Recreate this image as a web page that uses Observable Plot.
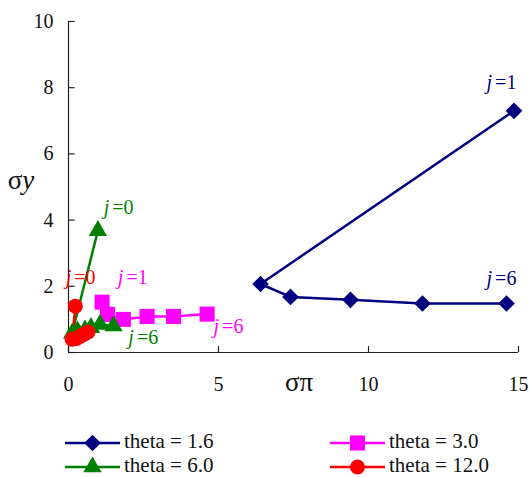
<!DOCTYPE html>
<html>
<head>
<meta charset="utf-8">
<script src="https://cdn.jsdelivr.net/npm/d3@7"></script>
<script src="https://cdn.jsdelivr.net/npm/@observablehq/plot@0.6"></script>
<style>
  body { margin: 0; background: #fff; font-family: "Liberation Serif", "Times New Roman", "DejaVu Serif", serif; }
  #chart svg { display: block; }
  #legend { display: block; }
  svg text { font-family: "Liberation Serif", "Times New Roman", "DejaVu Serif", serif !important; }
</style>
</head>
<body>
<div id="chart"></div>
<div id="legend"></div>
<script>
// Series definitions
const seriesNames = ["theta = 1.6", "theta = 3.0", "theta = 6.0", "theta = 12.0"];
const seriesColors = ["#000080", "#ff00ff", "#008000", "#ff0000"];
const seriesSymbols = ["diamond2", "square", "triangle", "circle"];

// theta = 1.6 (j = 1..6)
const t16x = [14.85, 6.4, 7.4, 9.4, 11.8, 14.6];
const t16y = [7.3, 2.07, 1.68, 1.59, 1.48, 1.48];
// theta = 3.0 (j = 1..6)
const t30x = [1.12, 1.3, 1.83, 2.62, 3.5, 4.62];
const t30y = [1.52, 1.15, 1.0, 1.09, 1.09, 1.16];
// theta = 6.0 (j = 0..6)
const t60x = [0.98, 0.12, 0.3, 0.55, 0.75, 1.05, 1.5];
const t60y = [3.68, 0.58, 0.65, 0.68, 0.75, 0.85, 0.8];
// theta = 12.0 (j = 0..6)
const t120x = [0.23, 0.12, 0.25, 0.35, 0.45, 0.55, 0.65];
const t120y = [1.4, 0.4, 0.42, 0.47, 0.52, 0.57, 0.62];

// annotation labels ("j =n")
const labelX = [1.46, 0.19, 1.93, 2.28, 5.12, 14.22, 14.22];
const labelY = [4.38, 2.27, 2.27, 0.45, 0.79, 8.16, 2.24];
const labelNum = ["0", "0", "1", "6", "6", "1", "6"];
const labelSeries = [2, 3, 1, 2, 1, 0, 0];

const xTicks = [0, 5, 10, 15];
const yTicks = [0, 2, 4, 6, 8, 10];

const allX = [t16x, t30x, t60x, t120x];
const allY = [t16y, t30y, t60y, t120y];
const data = [];
allX.forEach((xs, s) => xs.forEach((x, i) => data.push({x, y: allY[s][i], s})));
const labels = labelX.map((x, i) => ({x, y: labelY[i], num: "=" + labelNum[i], s: labelSeries[i]}));

const font = "Liberation Serif, Times New Roman, serif";
const symbolR = {diamond2: 7.5, square: 8.5, triangle: 6.8, circle: 7.5};
const marks = [];
// axes lines
marks.push(Plot.ruleY([0], {stroke: "#222", strokeWidth: 1.2}));
marks.push(Plot.ruleX([0], {stroke: "#222", strokeWidth: 1.2}));
// inward ticks
marks.push(Plot.ruleY(yTicks, {x1: 0, x2: 0.22, stroke: "#222", strokeWidth: 1.2}));
marks.push(Plot.ruleX(xTicks, {y1: 0, y2: 0.18, stroke: "#222", strokeWidth: 1.2}));
// tick labels
marks.push(Plot.axisY(yTicks, {tickSize: 0, tickPadding: 15, fontSize: 20, fill: "#111", label: null}));
marks.push(Plot.axisX(xTicks, {tickSize: 0, tickPadding: 24, fontSize: 20, fill: "#111", label: null}));
// series
seriesNames.forEach((name, s) => {
  const d = data.filter(p => p.s === s);
  marks.push(Plot.line(d, {x: "x", y: "y", stroke: seriesColors[s], strokeWidth: 2.5}));
});
seriesNames.forEach((name, s) => {
  const d = data.filter(p => p.s === s);
  marks.push(Plot.dot(d, {x: "x", y: "y", fill: seriesColors[s], symbol: () => seriesSymbols[s], r: symbolR[seriesSymbols[s]], stroke: "none"}));
});
// annotation labels
marks.push(Plot.text(labels, {x: "x", y: "y", text: () => "j", fill: d => seriesColors[d.s], fontStyle: "italic", textAnchor: "end", dx: -3, fontSize: 20}));
marks.push(Plot.text(labels, {x: "x", y: "y", text: "num", fill: d => seriesColors[d.s], textAnchor: "start", dx: 0, fontSize: 20}));

const plot = Plot.plot({
  width: 529,
  height: 410,
  marginLeft: 68,
  marginRight: 11,
  marginTop: 21,
  marginBottom: 58,
  style: {fontFamily: font, background: "#fff"},
  x: {domain: [0, 15], axis: null},
  y: {domain: [0, 10], axis: null},
  marks
});
document.getElementById("chart").appendChild(plot);

// axis titles
const svg = d3.select(plot);
const ty = svg.append("text").attr("x", 21).attr("y", 183).attr("text-anchor", "middle").attr("dominant-baseline", "middle")
  .attr("font-size", 27).attr("fill", "#111");
ty.append("tspan").text("σ");
ty.append("tspan").attr("font-style", "italic").text("y");
svg.append("text").attr("x", 299).attr("y", 385).attr("text-anchor", "middle").attr("dominant-baseline", "middle")
  .attr("font-size", 27).attr("fill", "#111").text("σπ");

// legend
const leg = d3.select("#legend").append("svg").attr("width", 529).attr("height", 67);
const cols = [65, 330];
const rows = [33, 57];
const symMap = {diamond2: d3.symbolDiamond2, square: d3.symbolSquare, triangle: d3.symbolTriangle, circle: d3.symbolCircle};
seriesNames.forEach((name, s) => {
  const x0 = cols[s % 2], y0 = rows[Math.floor(s / 2)];
  leg.append("line").attr("x1", x0).attr("x2", x0 + 55).attr("y1", y0).attr("y2", y0)
    .attr("stroke", seriesColors[s]).attr("stroke-width", 2.5);
  const r = symbolR[seriesSymbols[s]];
  leg.append("path").attr("d", d3.symbol(symMap[seriesSymbols[s]], r * r * Math.PI)()).attr("transform", `translate(${x0 + 27.5},${y0})`).attr("fill", seriesColors[s]);
  leg.append("text").attr("x", x0 + 59).attr("y", y0).attr("dominant-baseline", "middle")
    .attr("font-size", 21).attr("fill", "#111").text(name);
});
</script>
</body>
</html>
